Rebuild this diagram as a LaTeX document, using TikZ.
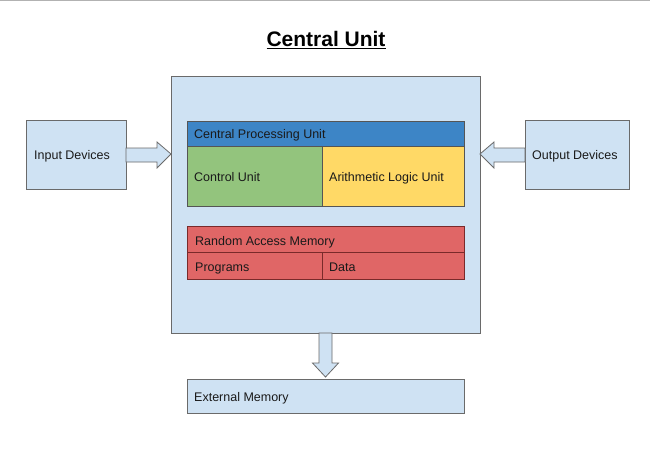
\documentclass[tikz,border=0pt]{standalone}
\usepackage{fontspec}
\setmainfont{Liberation Sans}
\definecolor{boxblue}{HTML}{CFE2F3}
\definecolor{edgegray}{HTML}{6A6A6A}
\definecolor{cpublue}{HTML}{3D85C6}
\definecolor{cugreen}{HTML}{93C47D}
\definecolor{aluyellow}{HTML}{FFD966}
\definecolor{ramred}{HTML}{E06666}
\definecolor{ramedge}{HTML}{7A2A2A}
\definecolor{txt}{HTML}{1A1A1A}
\begin{document}
\begin{tikzpicture}[x=1pt,y=-1pt,
  lbl/.style={font=\fontsize{12.5}{14}\selectfont, text=txt, anchor=base west, inner sep=0pt},
  plainbox/.style={draw=edgegray, line width=0.8pt, fill=boxblue},
  inner/.style={draw=edgegray!80!black, line width=0.8pt},
  bigarrow/.style={draw=edgegray, line width=0.8pt, fill=boxblue}]
\useasboundingbox (0,0) rectangle (650,453);
\fill[white] (0,0) rectangle (650,453);
\draw[gray!60, line width=1.2pt] (0,0.6) -- (650,0.6);
% title
\node[font=\fontsize{21}{24}\selectfont\bfseries, text=black, anchor=base, inner sep=0pt] (title) at (326,46.7)
  {\underline{Central Unit}};
% main box
\draw[plainbox] (171,76) rectangle (480,333);
% side boxes
\draw[plainbox] (26,120) rectangle (126,189);
\node[lbl] (inp) at (34,159.3) {Input Devices};
\draw[plainbox] (525,120) rectangle (629,189);
\node[lbl] (outp) at (532,159.3) {Output Devices};
% input arrow
\draw[bigarrow] (126,148) -- (157,148) -- (157,142) -- (171,154) -- (157,168) -- (157,162) -- (126,162) -- cycle;
% output arrow
\draw[bigarrow] (525,148) -- (494,148) -- (494,142) -- (480,154) -- (494,168) -- (494,162) -- (525,162) -- cycle;
% CPU
\draw[inner, fill=cpublue] (187,121) rectangle (464,146);
\node[lbl] (cpu) at (194,138.3) {Central Processing Unit};
\draw[inner, fill=cugreen] (187,146) rectangle (322,206);
\node[lbl] (cu) at (194,181.7) {Control Unit};
\draw[inner, fill=aluyellow] (322,146) rectangle (464,206);
\node[lbl] (alu) at (329,181.7) {Arithmetic Logic Unit};
% RAM
\draw[draw=ramedge, line width=0.8pt, fill=ramred] (187,226) rectangle (464,252);
\node[lbl] (ram) at (195,245) {Random Access Memory};
\draw[draw=ramedge, line width=0.8pt, fill=ramred] (187,252) rectangle (322,279);
\node[lbl] (prog) at (195,271.7) {Programs};
\draw[draw=ramedge, line width=0.8pt, fill=ramred] (322,252) rectangle (464,279);
\node[lbl] (data) at (329,271.7) {Data};
% down arrow
\draw[bigarrow] (319,333) -- (319,363) -- (312.5,363) -- (325.5,377) -- (338.5,363) -- (332,363) -- (332,333) -- cycle;
% external memory
\draw[plainbox] (187,379) rectangle (464,413);
\node[lbl] (ext) at (194,401.7) {External Memory};
\end{tikzpicture}
\end{document}
